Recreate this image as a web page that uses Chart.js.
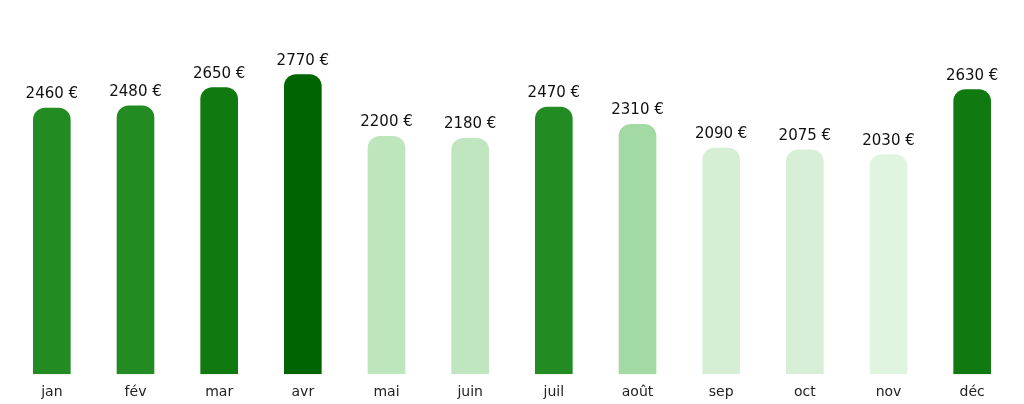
<!DOCTYPE html>
<html><head><meta charset="utf-8">
<script src="https://cdn.jsdelivr.net/npm/chart.js@4"></script>
<style>html,body{margin:0;padding:0;background:#fff}#w{width:1024px;height:404px}</style>
</head><body><div id="w"><canvas id="c"></canvas></div>
<script>
const months = ['jan','fév','mar','avr','mai','juin','juil','août','sep','oct','nov','déc'];
const revenue = [2460,2480,2650,2770,2200,2180,2470,2310,2090,2075,2030,2630];
const barColors = ['#228b22','#228b22','#107a10','#006400','#bde6bd','#bfe6bf','#228b22','#a3d9a3','#d4efd4','#d6efd6','#dff5df','#107a10'];
const valueLabels = {
  id:'valueLabels',
  afterDatasetsDraw(chart){
    const ctx=chart.ctx; const meta=chart.getDatasetMeta(0);
    ctx.save(); ctx.font='15px "DejaVu Sans"'; ctx.fillStyle='#111'; ctx.textAlign='center'; ctx.textBaseline='bottom';
    meta.data.forEach((b,i)=>ctx.fillText(revenue[i]+' €', b.x, b.y-6));
    ctx.restore();
  }
};
new Chart(document.getElementById('c'),{
  type:'bar',
  data:{labels:months,datasets:[{data:revenue,backgroundColor:barColors,borderRadius:{topLeft:12,topRight:12,bottomLeft:0,bottomRight:0},borderSkipped:'bottom',categoryPercentage:1,barPercentage:0.45}]},
  options:{responsive:true,maintainAspectRatio:false,animation:false,
    layout:{padding:{left:10,right:10,top:0,bottom:1}},
    plugins:{legend:{display:false},tooltip:{enabled:false}},
    scales:{
      x:{grid:{display:false},border:{display:false},ticks:{color:'#222',font:{family:'DejaVu Sans',size:14},padding:2}},
      y:{display:false,min:0,max:3455}
    }},
  plugins:[valueLabels]
});
</script></body></html>
